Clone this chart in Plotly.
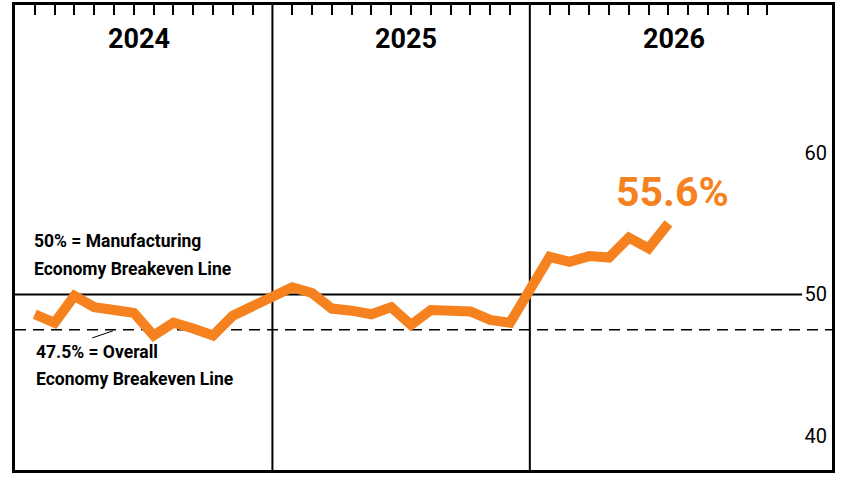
import plotly.graph_objects as go

# Monthly index readings
years = [2024, 2025, 2026]
months_2024 = [48.6, 48.0, 49.9, 49.1, 48.9, 48.7, 47.1, 48.0, 47.6, 47.1, 48.5, 49.2]
months_2025 = [50.5, 50.1, 49.0, 48.85, 48.6, 49.1, 47.85, 48.9, 48.9, 48.8, 48.2, 48.0]
months_2026 = [52.65, 52.3, 52.7, 52.6, 54.0, 53.25, 55.0]
latest_label = "55.6%"

manufacturing_line = 50
overall_line = 47.5
y_ticks = [40, 50, 60]

manufacturing_text = ["50% = Manufacturing", "Economy Breakeven Line"]
overall_text = ["47.5% = Overall", "Economy Breakeven Line"]

ORANGE = "#F5821F"
FONT = "Roboto, Liberation Sans, sans-serif"

# each year takes 13 slots on the x axis: 12 months plus a gap at the divider
SLOTS = 13


def month_x(year_idx, month):
    return year_idx * SLOTS + month


series = [months_2024, months_2025, months_2026]
xs, ys = [], []
for i, vals in enumerate(series):
    for m, v in enumerate(vals, start=1):
        xs.append(month_x(i, m))
        ys.append(v)

tick_x = [month_x(i, m) for i in range(len(years)) for m in range(1, 13)]

x_max = 41.26
y_range = [37.62, 70.4]

fig = go.Figure()

fig.add_trace(go.Scatter(
    x=xs, y=ys, mode="lines",
    line=dict(color=ORANGE, width=10),
    hoverinfo="skip", showlegend=False,
))

shapes = []
# year dividers
for i in range(1, len(years)):
    shapes.append(dict(type="line", xref="x", yref="paper",
                       x0=i * SLOTS, x1=i * SLOTS, y0=0, y1=1,
                       line=dict(color="black", width=2), layer="below"))
# breakeven lines
shapes.append(dict(type="line", xref="x", yref="y", x0=0, x1=39.75,
                   y0=manufacturing_line, y1=manufacturing_line,
                   line=dict(color="black", width=2), layer="below"))
shapes.append(dict(type="line", xref="paper", yref="y", x0=0, x1=1,
                   y0=overall_line, y1=overall_line,
                   line=dict(color="black", width=1.5, dash="11px,7px"), layer="below"))
# little pointer from the label to the dashed line
shapes.append(dict(type="line", xref="x", yref="y", x0=3.9, x1=4.95,
                   y0=46.93, y1=47.43, line=dict(color="black", width=1)))

annotations = []
year_label_x = [6.26, 19.75, 33.3]
for yr, xp in zip(years, year_label_x):
    annotations.append(dict(x=xp, y=68.0, xref="x", yref="y", text=f"<b>{yr}</b>",
                            showarrow=False, font=dict(family=FONT, size=27, color="black")))

# label lines placed one by one to get the wider line spacing of the original
for txt, yv in zip(manufacturing_text, [53.73, 51.8]):
    annotations.append(dict(x=0.85, y=yv, xref="x", yref="y", xanchor="left", yanchor="middle",
                            text=f"<b>{txt}</b>", showarrow=False,
                            font=dict(family=FONT, size=17.5, color="black")))
for txt, yv in zip(overall_text, [45.91, 44.04]):
    annotations.append(dict(x=0.95, y=yv, xref="x", yref="y", xanchor="left", yanchor="middle",
                            text=f"<b>{txt}</b>", showarrow=False,
                            font=dict(family=FONT, size=17.5, color="black")))

annotations.append(dict(x=33.2, y=57.25, xref="x", yref="y",
                        text=f"<b>{latest_label}</b>", showarrow=False,
                        font=dict(family=FONT, size=41, color=ORANGE)))

fig.update_layout(
    width=846, height=481,
    margin=dict(l=15, r=14, t=5, b=11),
    paper_bgcolor="white", plot_bgcolor="white",
    shapes=shapes, annotations=annotations,
    xaxis=dict(range=[0, x_max], side="top", tickvals=tick_x, ticks="inside",
               ticklen=10, tickwidth=1.5, tickcolor="black", showticklabels=False,
               showgrid=False, zeroline=False, showline=True, mirror=True,
               linecolor="black", linewidth=3, fixedrange=True),
    yaxis=dict(range=y_range, side="right", tickvals=y_ticks, ticks="",
               ticklabelposition="inside", ticklabelstandoff=6,
               tickfont=dict(family=FONT, size=20, color="black"),
               showgrid=False, zeroline=False, showline=True, mirror=True,
               linecolor="black", linewidth=3, fixedrange=True),
)

# drop the default 8px page margin so the figure sits at the window corner
fig.write_html("out.html", config={"displayModeBar": False},
               post_script="document.body.style.margin='0';")
